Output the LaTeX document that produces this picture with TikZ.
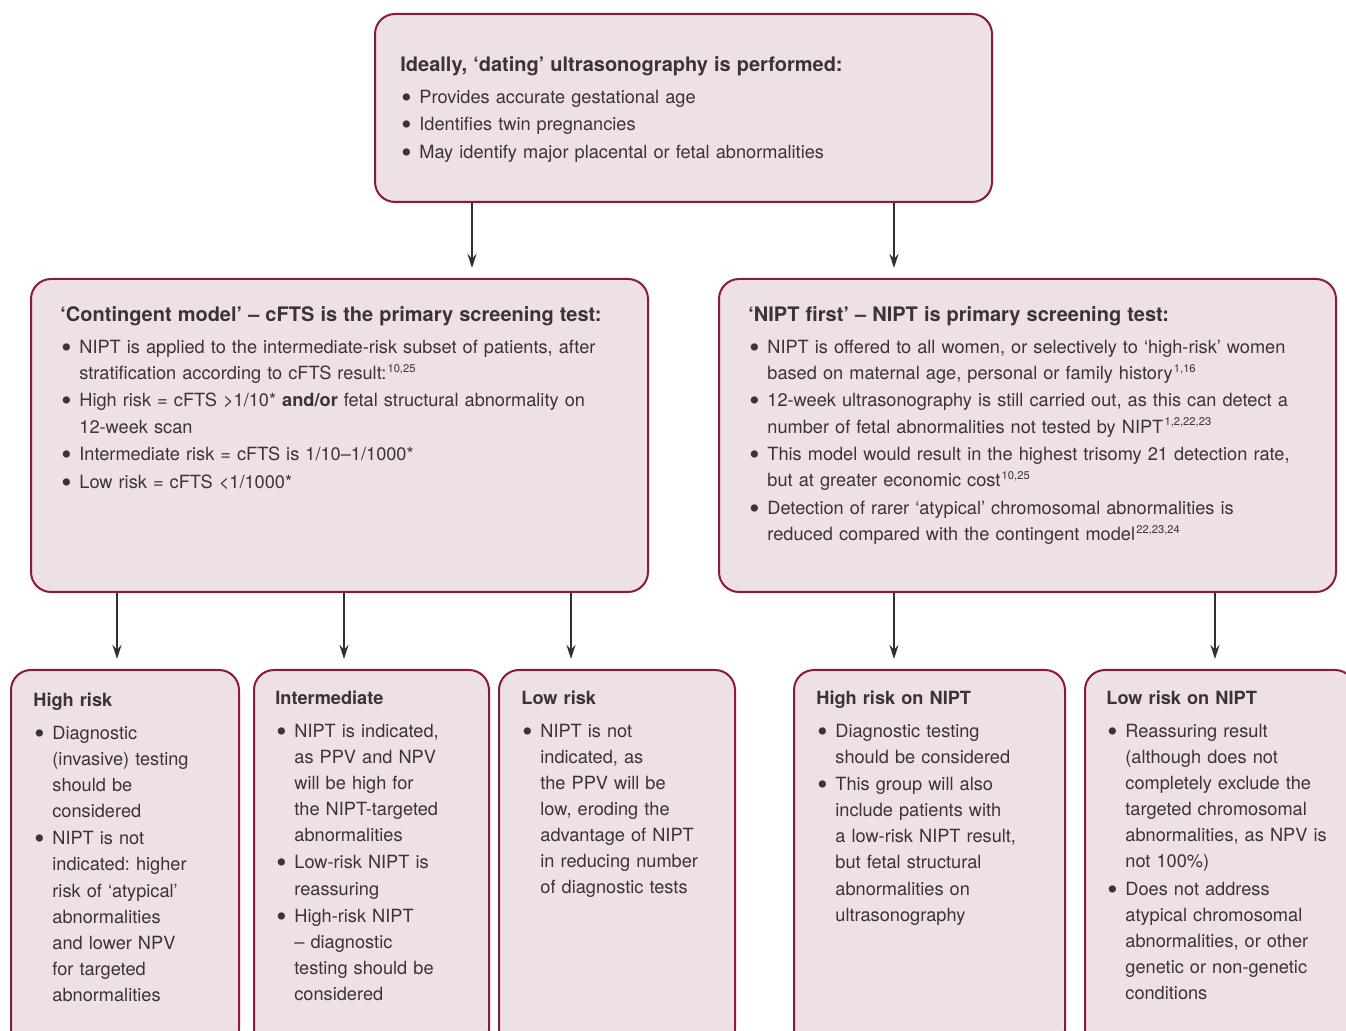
\documentclass[tikz,border=0pt]{standalone}
\usepackage{fontspec}
\setmainfont{TeX Gyre Heros}
\usetikzlibrary{positioning, arrows.meta}
\frenchspacing

\definecolor{boxfill}{HTML}{EDE1E4}
\definecolor{boxline}{HTML}{8A1A3E}
\definecolor{ink}{HTML}{3A3433}

% one bullet point, later lines hang under the text
\newcommand{\bitem}[1]{\par\hangindent=9.5pt\hangafter=1\noindent\makebox[9.5pt][l]{\hspace{0.5pt}\raisebox{-2pt}{\scalebox{1.6}{\textbullet}}}{\def\\{\newline}#1}\par\vspace{0.7pt}}
\newcommand{\btitle}[1]{\noindent{\bfseries #1}\par\vspace{3pt}}
\newcommand{\mtitle}[1]{\noindent{\fontsize{10}{13}\selectfont\bfseries #1}\par\vspace{3pt}}
\newcommand{\refs}[1]{\hspace{0.6pt}{\fontsize{5.6}{6}\selectfont\raisebox{3.6pt}{#1}}}

\tikzset{
  box/.style={draw=boxline, fill=boxfill, line width=1pt, rounded corners=10pt, anchor=north west, inner sep=0pt},
  txt/.style={anchor=north west, inner sep=0pt, text=ink, font=\fontsize{9.1}{13.05}\selectfont\raggedright},
  arr/.style={-{Stealth[length=7pt,width=4.5pt]}, line width=0.7pt, draw=ink!90!black, shorten >=5pt}
}

\begin{document}
\begin{tikzpicture}[x=0.5pt, y=-0.5pt]
\useasboundingbox (0,0) rectangle (1346,1031);

% boxes
\node[box, minimum width=308.5pt, minimum height=94pt] (dating) at (374,13) {};
\node[box, minimum width=308.5pt, minimum height=156.5pt] (contingent) at (30,278) {};
\node[box, minimum width=308.5pt, minimum height=156.5pt] (nipt) at (718,278) {};
\node[box, minimum width=114pt, minimum height=190pt] (high) at (10,669) {};
\node[box, minimum width=117.5pt, minimum height=190pt] (inter) at (253,669) {};
\node[box, minimum width=118pt, minimum height=190pt] (low) at (498,669) {};
\node[box, minimum width=135.5pt, minimum height=190pt] (highnipt) at (793,669) {};
\node[box, minimum width=135pt, minimum height=190pt] (lownipt) at (1084,669) {};

% texts
\node[txt, text width=295pt] (datingtext) at (400,56) {%
\mtitle{Ideally, ‘dating’ ultrasonography is performed:}
\bitem{Provides accurate gestational age}
\bitem{Identifies twin pregnancies}
\bitem{May identify major placental or fetal abnormalities}};

\node[txt, text width=300pt] (contingenttext) at (60,306) {%
\mtitle{‘Contingent model’ – cFTS is the primary screening test:}
\bitem{NIPT is applied to the intermediate-risk subset of patients, after\\stratification according to cFTS result:\refs{10,25}}
\bitem{High risk = cFTS >1/10* \textbf{and/or} fetal structural abnormality on\\12-week scan}
\bitem{Intermediate risk = cFTS is 1/10–1/1000*}
\bitem{Low risk = cFTS <1/1000*}};

\node[txt, text width=300pt] (nipttext) at (748,306) {%
\mtitle{‘NIPT first’ – NIPT is primary screening test:}
\bitem{NIPT is offered to all women, or selectively to ‘high-risk’ women\\based on maternal age, personal or family history\refs{1,16}}
\bitem{12-week ultrasonography is still carried out, as this can detect a\\number of fetal abnormalities not tested by NIPT\refs{1,2,22,23}}
\bitem{This model would result in the highest trisomy 21 detection rate,\\but at greater economic cost\refs{10,25}}
\bitem{Detection of rarer ‘atypical’ chromosomal abnormalities is\\reduced compared with the contingent model\refs{22,23,24}}};

\node[txt, text width=105pt] (hightext) at (33,693) {%
\btitle{High risk}
\bitem{Diagnostic\\(invasive) testing\\should be\\considered}
\bitem{NIPT is not\\indicated: higher\\risk of ‘atypical’\\abnormalities\\and lower NPV\\for targeted\\abnormalities}};

\node[txt, text width=110pt] (intertext) at (275,691) {%
\btitle{Intermediate}
\bitem{NIPT is indicated,\\as PPV and NPV\\will be high for\\the NIPT-targeted\\abnormalities}
\bitem{Low-risk NIPT is\\reassuring}
\bitem{High-risk NIPT\\– diagnostic\\testing should be\\considered}};

\node[txt, text width=110pt] (lowtext) at (521,691) {%
\btitle{Low risk}
\bitem{NIPT is not\\indicated, as\\the PPV will be\\low, eroding the\\advantage of NIPT\\in reducing number\\of diagnostic tests}};

\node[txt, text width=125pt] (highnipttext) at (816,691) {%
\btitle{High risk on NIPT}
\bitem{Diagnostic testing\\should be considered}
\bitem{This group will also\\include patients with\\a low-risk NIPT result,\\but fetal structural\\abnormalities on\\ultrasonography}};

\node[txt, text width=130pt] (lownipttext) at (1106,691) {%
\btitle{Low risk on NIPT}
\bitem{Reassuring result\\(although does not\\completely exclude the\\targeted chromosomal\\abnormalities, as NPV is\\not 100\%)}
\bitem{Does not address\\atypical chromosomal\\abnormalities, or other\\genetic or non-genetic\\conditions}};

% arrow positions
\coordinate (xa) at (472,0);
\coordinate (xb) at (894,0);
\coordinate (xc) at (117,0);
\coordinate (xd) at (344,0);
\coordinate (xe) at (571,0);
\coordinate (xf) at (1215,0);

\draw[arr] (dating.south -| xa) -- (contingent.north -| xa);
\draw[arr] (dating.south -| xb) -- (nipt.north -| xb);
\draw[arr] (contingent.south -| xc) -- (high.north -| xc);
\draw[arr] (contingent.south -| xd) -- (inter.north -| xd);
\draw[arr] (contingent.south -| xe) -- (low.north -| xe);
\draw[arr] (nipt.south -| xb) -- (highnipt.north -| xb);
\draw[arr] (nipt.south -| xf) -- (lownipt.north -| xf);
\end{tikzpicture}
\end{document}
